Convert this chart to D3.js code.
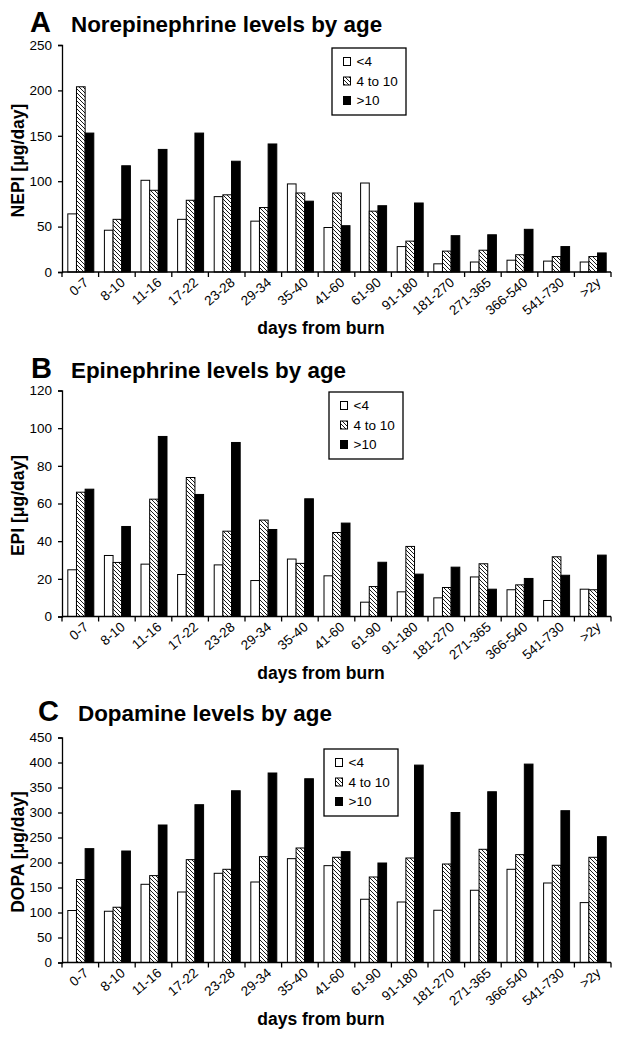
<!DOCTYPE html>
<html><head><meta charset="utf-8">
<script src="https://cdn.jsdelivr.net/npm/d3@7"></script>
<style>
body{margin:0;background:#fff;}
svg{display:block;font-family:"Liberation Sans",Arial,sans-serif;}
</style></head>
<body><svg id="c" width="619" height="1039"></svg>
<script>
const categories = ["0-7","8-10","11-16","17-22","23-28","29-34","35-40","41-60","61-90","91-180","181-270","271-365","366-540","541-730",">2y"];
const seriesNames = ["<4","4 to 10",">10"];

const nepiLt4 = [64, 46, 101, 58, 83, 56, 97, 49, 98, 28, 9, 11, 13, 12, 11];
const nepiMid = [204, 58, 90, 79, 85, 71, 87, 87, 67, 34, 23, 24, 19, 17, 17];
const nepiGt10 = [153, 117, 135, 153, 122, 141, 78, 51, 73, 76, 40, 41, 47, 28, 21];

const epiLt4 = [24.8, 32.4, 27.8, 22.3, 27.4, 19.1, 30.5, 21.6, 7.6, 13.1, 9.9, 21, 14.2, 8.5, 14.5];
const epiMid = [66, 28.7, 62.3, 73.8, 45.3, 51.2, 28.2, 44.6, 15.9, 37.2, 15.4, 28, 16.8, 31.7, 14.2];
const epiGt10 = [67.6, 47.8, 95.6, 64.8, 92.4, 46.2, 62.5, 49.6, 28.8, 22.5, 26.2, 14.5, 20.2, 21.9, 32.6];

const dopaLt4 = [104, 102.5, 156.4, 141, 178.4, 161, 207.7, 193.7, 126.5, 121, 104.5, 144.5, 186.4, 159, 119.8];
const dopaMid = [166, 110.5, 173.8, 205.7, 186.4, 211.7, 229, 210.4, 171, 209, 197, 226.4, 215.7, 194.4, 210.4];
const dopaGt10 = [227.7, 223, 275, 315.6, 343.5, 379, 367.5, 221.7, 199, 394.8, 300, 341.5, 396.8, 303.6, 251.7];

const nepiTicks = [0,50,100,150,200,250];
const epiTicks = [0,20,40,60,80,100,120];
const dopaTicks = [0,50,100,150,200,250,300,350,400,450];

const svg = d3.select("#c");
const defs = svg.append("defs");
const pat = defs.append("pattern").attr("id","hatch").attr("patternUnits","userSpaceOnUse")
  .attr("width",4).attr("height",4);
pat.append("rect").attr("width",4).attr("height",4).attr("fill","#fff");
pat.append("path").attr("d","M-1,-1 L5,5 M-1,3 L1,5 M3,-1 L5,1").attr("stroke","#000").attr("stroke-width",0.9);

const fills = ["#fff","url(#hatch)","#000"];

const X0 = 62, X1 = 611;
const x = d3.scaleBand().domain(categories).range([X0, X1]).paddingInner(0.29).paddingOuter(0.145);
const xs = d3.scaleBand().domain(d3.range(3)).range([0, x.bandwidth()]);

const panels = [
  {letter:"A", title:"Norepinephrine levels by age", ylab:"NEPI [\u03bcg/day]", series:[nepiLt4,nepiMid,nepiGt10], ticks:nepiTicks, y0:272, y1:45, max:250, titleY:32, letterX:30, titleX:71, legend:[332,48]},
  {letter:"B", title:"Epinephrine levels by age", ylab:"EPI [\u03bcg/day]", series:[epiLt4,epiMid,epiGt10], ticks:epiTicks, y0:616.5, y1:390.5, max:120, titleY:378, letterX:31, titleX:71, legend:[329,392]},
  {letter:"C", title:"Dopamine levels by age", ylab:"DOPA [\u03bcg/day]", series:[dopaLt4,dopaMid,dopaGt10], ticks:dopaTicks, y0:962.5, y1:737.5, max:450, titleY:721, letterX:38, titleX:78, legend:[324,749]}
];

panels.forEach(p => {
  const g = svg.append("g");
  const y = d3.scaleLinear().domain([0,p.max]).range([p.y0,p.y1]);

  // bars
  p.series.forEach((vals, si) => {
    g.append("g").selectAll("rect").data(vals).join("rect")
      .attr("x", (d,i) => x(categories[i]) + xs(si) + 0.5)
      .attr("y", d => y(d))
      .attr("width", xs.bandwidth())
      .attr("height", d => p.y0 - y(d))
      .attr("fill", fills[si])
      .attr("stroke","#000").attr("stroke-width",1);
  });

  // y axis
  const ya = g.append("g").attr("transform",`translate(${X0},0)`)
    .call(d3.axisLeft(y).tickValues(p.ticks).tickSize(4).tickPadding(6).tickFormat(d3.format("d")));
  ya.select(".domain").attr("stroke","#000").attr("stroke-width",1.3);
  ya.selectAll(".tick line").attr("stroke","#000").attr("stroke-width",1.3);
  ya.selectAll("text").attr("font-size",13.5).attr("fill","#000").attr("font-family",null);

  // x axis
  const xa = g.append("g").attr("transform",`translate(0,${p.y0})`);
  xa.append("line").attr("x1",X0).attr("x2",X1).attr("stroke","#000").attr("stroke-width",1.3);
  const step = x.step();
  const bounds = d3.range(categories.length+1).map(i => X0 + i*step);
  xa.selectAll("line.tk").data(bounds).join("line").attr("class","tk")
    .attr("x1",d=>d).attr("x2",d=>d).attr("y1",0).attr("y2",5)
    .attr("stroke","#000").attr("stroke-width",1.3);
  xa.selectAll("text").data(categories).join("text")
    .attr("transform", d => `translate(${x(d)+x.bandwidth()/2+9},${12}) rotate(-40)`)
    .attr("text-anchor","end").attr("font-size",13.5).attr("fill","#000")
    .text(d=>d);

  // x axis title
  g.append("text").attr("x",321).attr("y",p.y0+62).attr("text-anchor","middle")
    .attr("font-size",17.5).attr("font-weight","bold").text("days from burn");

  // y axis title
  g.append("text").attr("transform",`translate(24,${(p.y0+p.y1)/2+2}) rotate(-90)`)
    .attr("text-anchor","middle").attr("font-size",17.5).attr("font-weight","bold").text(p.ylab);

  // panel title
  g.append("text").attr("x",p.letterX).attr("y",p.titleY).attr("font-size",29).attr("font-weight","bold").text(p.letter);
  g.append("text").attr("x",p.titleX).attr("y",p.titleY).attr("font-size",22.4).attr("font-weight","bold").text(p.title);

  // legend
  const [lx,ly] = p.legend;
  const lg = g.append("g").attr("transform",`translate(${lx},${ly})`);
  lg.append("rect").attr("width",74).attr("height",67).attr("fill","#fff").attr("stroke","#000").attr("stroke-width",1.3);
  seriesNames.forEach((s,i) => {
    lg.append("rect").attr("x",11.5).attr("y",9.5+i*19.5).attr("width",7).attr("height",8)
      .attr("fill",fills[i]).attr("stroke","#000").attr("stroke-width",1);
    lg.append("text").attr("x",24.5).attr("y",18+i*19.5).attr("font-size",13.5).text(s);
  });
});
</script></body></html>
